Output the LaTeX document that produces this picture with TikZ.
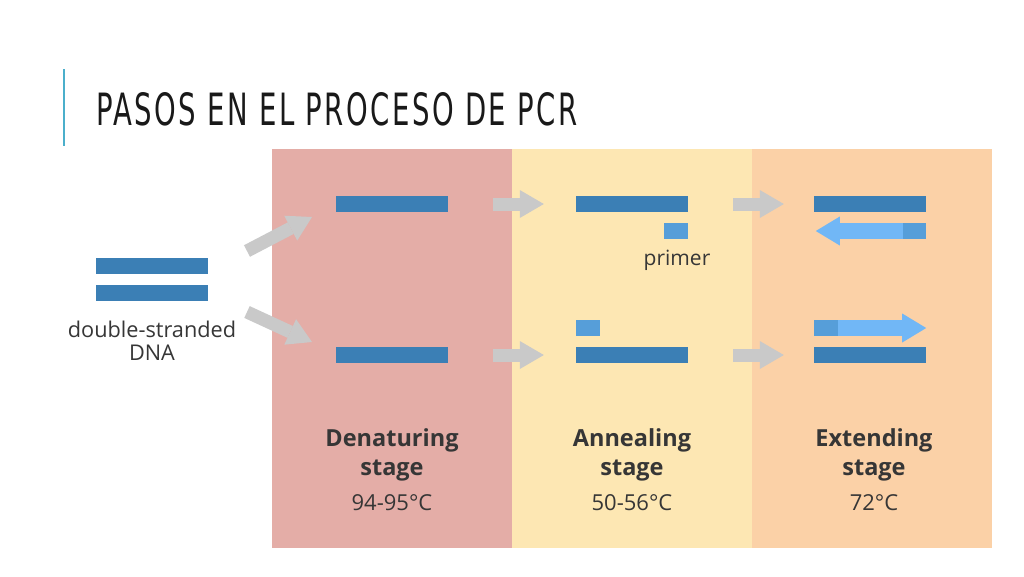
\documentclass[tikz,border=0pt]{standalone}
\usepackage{fontspec}
\setmainfont{Open Sans}
\newfontfamily\titlefont[LetterSpace=9]{DejaVu Sans}
\usepackage{graphicx}
\usepackage{tikz}
\usetikzlibrary{arrows.meta}
\definecolor{denatred}{HTML}{E4ADA7}
\definecolor{annealyellow}{HTML}{FDE7B3}
\definecolor{extendorange}{HTML}{FBD1A7}
\definecolor{strandblue}{HTML}{3B7FB5}
\definecolor{primerblue}{HTML}{569ED9}
\definecolor{newblue}{HTML}{71B7F6}
\definecolor{arrowgray}{HTML}{C9C9C9}
\definecolor{labelgray}{HTML}{363636}
\definecolor{rulecyan}{HTML}{4BAFCB}
\tikzset{
  dnabar/.style={fill=strandblue, inner sep=0pt, minimum width=112pt, minimum height=16pt},
  primerbox/.style={fill=primerblue, inner sep=0pt, minimum width=24pt, minimum height=16pt},
  grayarrow/.style={draw=arrowgray, line width=13pt, -{Triangle[width=28pt,length=24pt,line width=0pt]}},
  newstrand/.style={draw=newblue, line width=16pt, -{Triangle[width=29pt,length=24pt,line width=0pt]}},
  stagename/.style={font=\bfseries\fontsize{23.5}{28}\selectfont, text=labelgray, anchor=base, inner sep=0pt},
  tempnote/.style={font=\fontsize{22}{26}\selectfont, text=labelgray, anchor=base, inner sep=0pt}
}

\begin{document}
\begin{tikzpicture}[x=1pt, y=-1pt]
      \useasboundingbox[fill=white] (0,0) rectangle (1024,576);
      % title
      \draw[rulecyan, line width=2.5pt] (64,69) -- (64,146);
      \node (title) at (96,125) [anchor=base west, inner sep=0pt, text=black!90]
        {\resizebox{481pt}{33pt}{\titlefont PASOS EN EL PROCESO DE PCR}};
      % stage panels
      \fill[denatred] (272,149) rectangle (512,548);
      \fill[annealyellow] (512,149) rectangle (752,548);
      \fill[extendorange] (752,149) rectangle (992,548);
      % double-stranded DNA
      \node[dnabar] (dna1) at (152,265.5) {};
      \node[dnabar] (dna2) at (152,292.5) {};
      \node (dnalabel) at (152,321) [anchor=north, align=center, inner sep=0pt, text=labelgray,
        font=\fontsize{21.7}{23}\selectfont] {double-stranded\\DNA};
      % denaturing
      \node[dnabar] (dtop) at (392,204) {};
      \node[dnabar] (dbot) at (392,355) {};
      \coordinate (upstart) at (247,251);
      \coordinate (upend) at (312,217);
      \coordinate (downstart) at (247,312);
      \coordinate (downend) at (312,342);
      \draw[grayarrow] (upstart) -- (upend);
      \draw[grayarrow] (downstart) -- (downend);
      % annealing
      \node[dnabar] (atop) at (632,204) {};
      \node[dnabar] (abot) at (632,355) {};
      \node[primerbox] (aprimtop) at (676,231) {};
      \node[primerbox] (aprimbot) at (588,328) {};
      \node (primer) at (677,265) [anchor=base, inner sep=0pt, text=labelgray,
        font=\fontsize{21}{25}\selectfont] {primer};
      \draw[grayarrow] ([xshift=45pt]dtop.east) -- ([xshift=-32pt]atop.west);
      \draw[grayarrow] ([xshift=45pt]dbot.east) -- ([xshift=-32pt]abot.west);
      % extending
      \node[dnabar] (etop) at (870,204) {};
      \node[dnabar] (ebot) at (870,355) {};
      \node[primerbox, minimum width=23pt] (eprimtop) at (914.5,231) {};
      \node[primerbox] (eprimbot) at (826,328) {};
      \draw[newstrand] (eprimtop.west) -- ([xshift=2pt]etop.west |- eprimtop.center);
      \draw[newstrand] (eprimbot.east) -- (etop.east |- eprimbot.center);
      \draw[grayarrow] ([xshift=45pt]atop.east) -- ([xshift=-30pt]etop.west);
      \draw[grayarrow] ([xshift=45pt]abot.east) -- ([xshift=-30pt]ebot.west);
      % stage labels
      \node[stagename] (dname) at (392,446) {Denaturing};
      \node[stagename] (dstage) at (392,475) {stage};
      \node[tempnote] (dtemp) at (392,510) {94-95°C};
      \node[stagename] (aname) at (632,446) {Annealing};
      \node[stagename] (astage) at (632,475) {stage};
      \node[tempnote] (atemp) at (632,510) {50-56°C};
      \node[stagename] (ename) at (874,446) {Extending};
      \node[stagename] (estage) at (874,475) {stage};
      \node[tempnote] (etemp) at (874,510) {72°C};
    \end{tikzpicture}
\end{document}
